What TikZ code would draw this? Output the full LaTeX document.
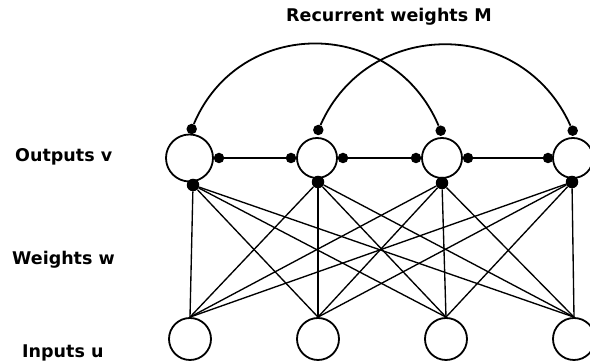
\documentclass[tikz,border=0pt]{standalone}
\usepackage{fontspec}
\setmainfont{DejaVu Sans}
\usetikzlibrary{calc}
\begin{document}
\begin{tikzpicture}[x=1pt,y=1pt]
\tikzset{
  unit/.style={circle, draw, line width=1.8pt, inner sep=0pt, fill=white},
  knob/.style={circle, fill=black, inner sep=0pt, minimum size=10.5pt},
  hub/.style={circle, fill=black, inner sep=0pt, minimum size=12.5pt},
  wire/.style={line width=1.35pt},
  recur/.style={line width=1.8pt},
  tag/.style={font=\bfseries\fontsize{17.5}{20}\selectfont, anchor=west, inner sep=0pt}
}
\fill[white] (0,0) rectangle (590,363);
\useasboundingbox (0,0) rectangle (590,363);

% output layer
\node[unit, minimum size=47pt] (o1) at (189.5,205) {};
\node[unit, minimum size=40pt] (o2) at (317,205) {};
\node[unit, minimum size=40pt] (o3) at (442,205) {};
\node[unit, minimum size=40pt] (o4) at (573,205) {};

% input layer
\node[unit, minimum size=42pt] (i1) at (190,24) {};
\node[unit, minimum size=42pt] (i2) at (318,24) {};
\node[unit, minimum size=42pt] (i3) at (446,24) {};
\node[unit, minimum size=42pt] (i4) at (574,24) {};

% synapse knobs on the output units
\node[knob] (t1) at (191.7,234) {};
\node[knob] (t2) at (318.3,233) {};
\node[knob] (t3) at (440.7,232.3) {};
\node[knob] (t4) at (572.7,232.3) {};
\node[knob] (r1) at (219,205) {};
\node[knob] (l2) at (291,205) {};
\node[knob] (r2) at (343,205) {};
\node[knob] (l3) at (416,205) {};
\node[knob] (r3) at (468,205) {};
\node[knob] (l4) at (548,205) {};
\node[hub] (b1) at (193,178) {};
\node[hub] (b2) at (318,181) {};
\node[hub] (b3) at (442,180) {};
\node[hub] (b4) at (572,181) {};

% lateral connections
\draw[wire] (r1) -- (l2);
\draw[wire] (r2) -- (l3);
\draw[wire] (r3) -- (l4);

% recurrent arcs
\draw[recur] (t1) to[out=67,in=113,looseness=1.23] (t3);
\draw[recur] (t2) to[out=66,in=114,looseness=1.21] (t4);

% feed-forward weights
\foreach \b in {b1,b2,b3,b4}{
  \foreach \i in {i1,i2,i3,i4}{
    \draw[wire] (\b) -- (\i.north);
  }
}

% labels
\node[tag] (lo) at (15,206) {Outputs v};
\node[tag] (lw) at (12,103) {Weights w};
\node[tag] (li) at (22,10) {Inputs u};
\node[tag, anchor=center] (lm) at (389,346) {Recurrent weights M};
\end{tikzpicture}
\end{document}
